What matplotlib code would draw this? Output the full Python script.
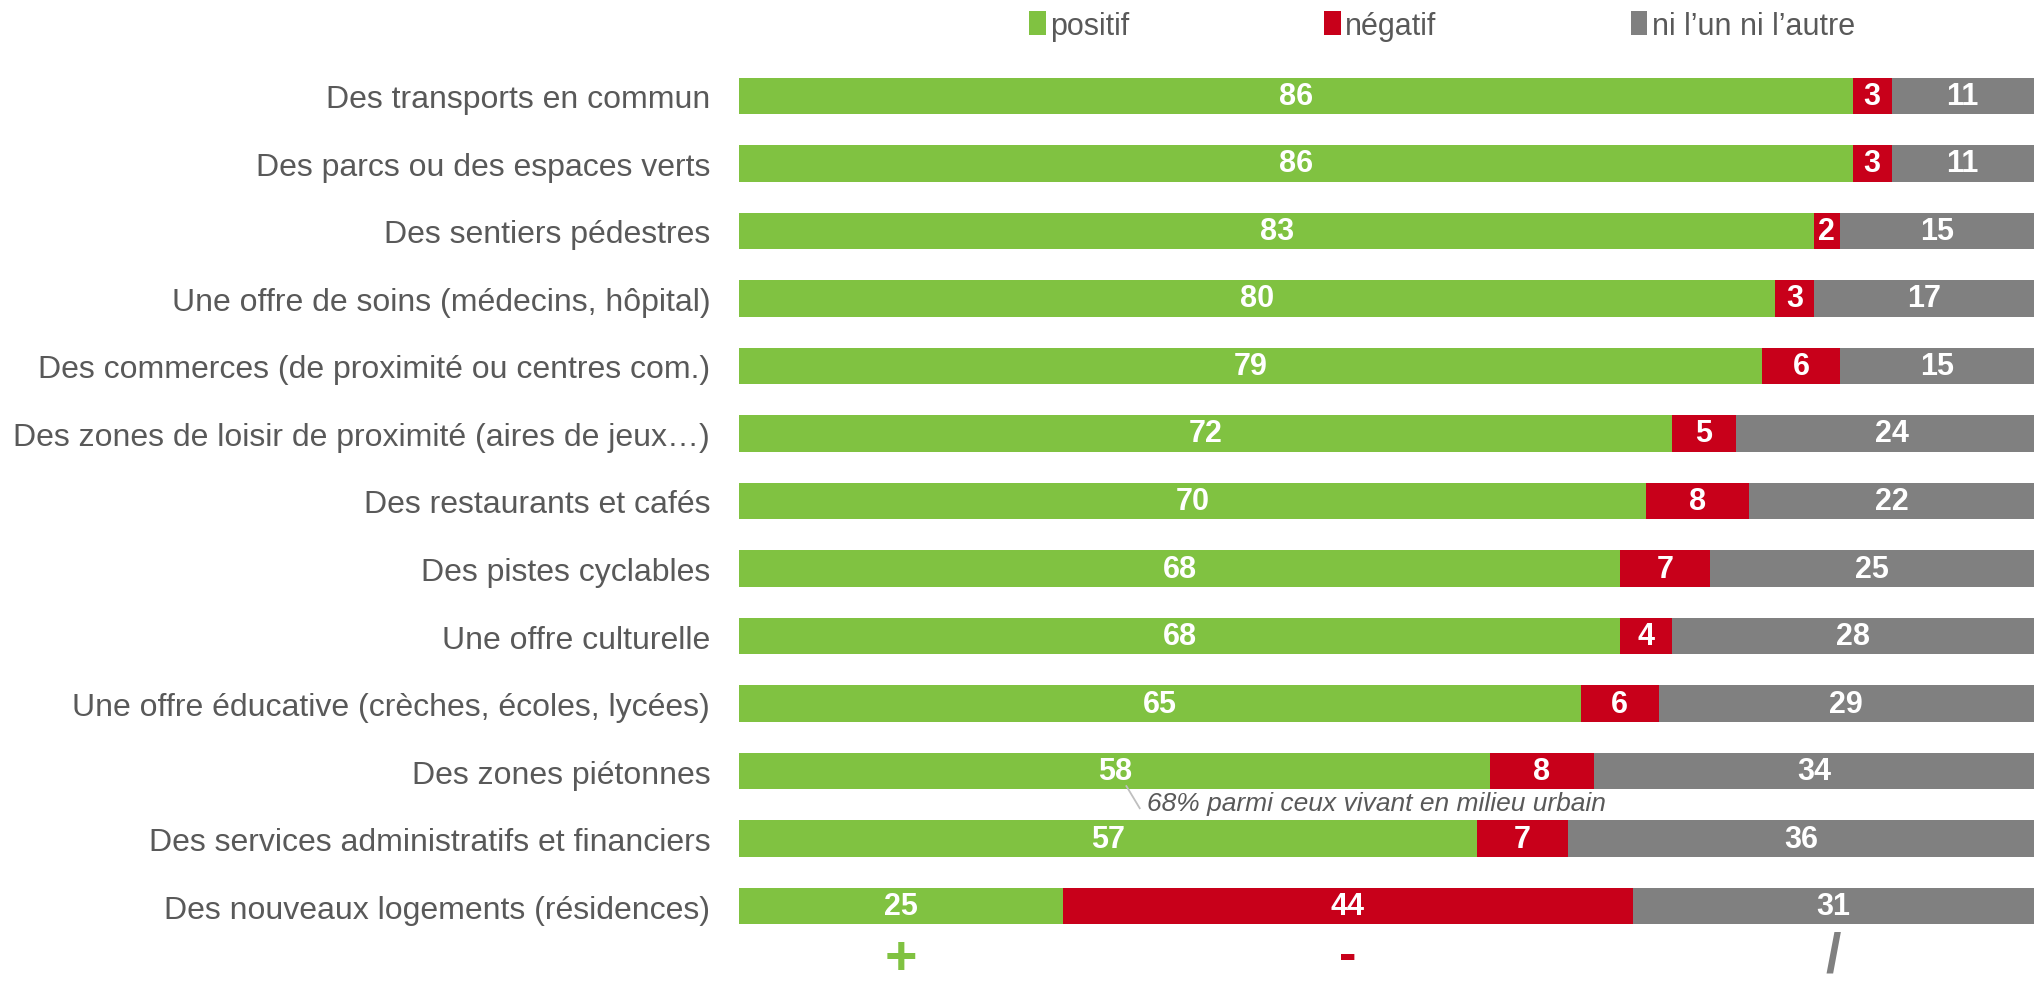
import matplotlib
matplotlib.use("Agg")
import matplotlib.pyplot as plt
from matplotlib.font_manager import fontManager

categories = [
    "Des transports en commun",
    "Des parcs ou des espaces verts",
    "Des sentiers pédestres",
    "Une offre de soins (médecins, hôpital)",
    "Des commerces (de proximité ou centres com.)",
    "Des zones de loisir de proximité (aires de jeux…)",
    "Des restaurants et cafés",
    "Des pistes cyclables",
    "Une offre culturelle",
    "Une offre éducative (crèches, écoles, lycées)",
    "Des zones piétonnes",
    "Des services administratifs et financiers",
    "Des nouveaux logements (résidences)",
]
positif = [86, 86, 83, 80, 79, 72, 70, 68, 68, 65, 58, 57, 25]
negatif = [3, 3, 2, 3, 6, 5, 8, 7, 4, 6, 8, 7, 44]
ni = [11, 11, 15, 17, 15, 24, 22, 25, 28, 29, 34, 36, 31]
series_names = ["positif", "négatif", "ni l’un ni l’autre"]
symbols = ["+", "-", "/"]
annotation = "68% parmi ceux vivant en milieu urbain"

colors = ["#80C241", "#C8001A", "#808080"]
text_gray = "#595959"

names = {f.name for f in fontManager.ttflist}
base = "Liberation Sans" if "Liberation Sans" in names else "DejaVu Sans"
narrow = "Liberation Sans Narrow" if "Liberation Sans Narrow" in names else base

fig = plt.figure(figsize=(20.34, 9.87), dpi=100)
ax = fig.add_axes([0.3635, 0.0466, 0.6365, 0.8896])

y = list(range(len(categories)))
lefts = [0] * len(categories)
for vals, col, name in zip([positif, negatif, ni], colors, series_names):
    ax.barh(y, vals, left=lefts, height=0.54, color=col, label=name)
    for yi, (l, v) in enumerate(zip(lefts, vals)):
        ax.text(l + v / 2, yi, str(v), ha="center", va="center", color="white",
                fontsize=22, fontweight="bold", family=narrow)
    lefts = [l + v for l, v in zip(lefts, vals)]

ax.set_xlim(0, 100)
ax.set_ylim(12.5, -0.5)
ax.set_yticks(y)
ax.set_yticklabels(categories, fontsize=23, color=text_gray, family=base)
ax.tick_params(axis="y", length=0, pad=21)
ax.set_xticks([])
for s in ax.spines.values():
    s.set_visible(False)

# annotation for zones piétonnes
ax.plot([29.86, 30.96], [10.21, 10.56], color="#BFBFBF", lw=1.3,
        solid_capstyle="butt")
ax.text(31.5, 10.47, annotation, fontsize=19, style="italic", color=text_gray,
        family=base, ha="left", va="center")

# bottom symbols under last bar segments
last = len(categories) - 1
starts = [0, positif[last], positif[last] + negatif[last]]
widths = [positif[last], negatif[last], ni[last]]
sym_y = [12.78, 12.74, 12.74]
for st, w, sym, col, sy, fs in zip(starts, widths, symbols, colors, sym_y, [40, 38, 40]):
    ax.text(st + w / 2, sy, sym, ha="center", va="center", color=col,
            fontsize=fs, fontweight="bold", family=base, clip_on=False)

# legend
handles, labels = ax.get_legend_handles_labels()
leg = fig.legend(handles, labels, loc="center", bbox_to_anchor=(0.709, 0.973),
                 ncol=3, frameon=False, handlelength=0.55,
                 handleheight=0.85, handletextpad=0.15, columnspacing=6.35,
                 prop={"family": base, "size": 22})
for t in leg.get_texts():
    t.set_color(text_gray)

fig.savefig("out.png", dpi=100, facecolor="white")
